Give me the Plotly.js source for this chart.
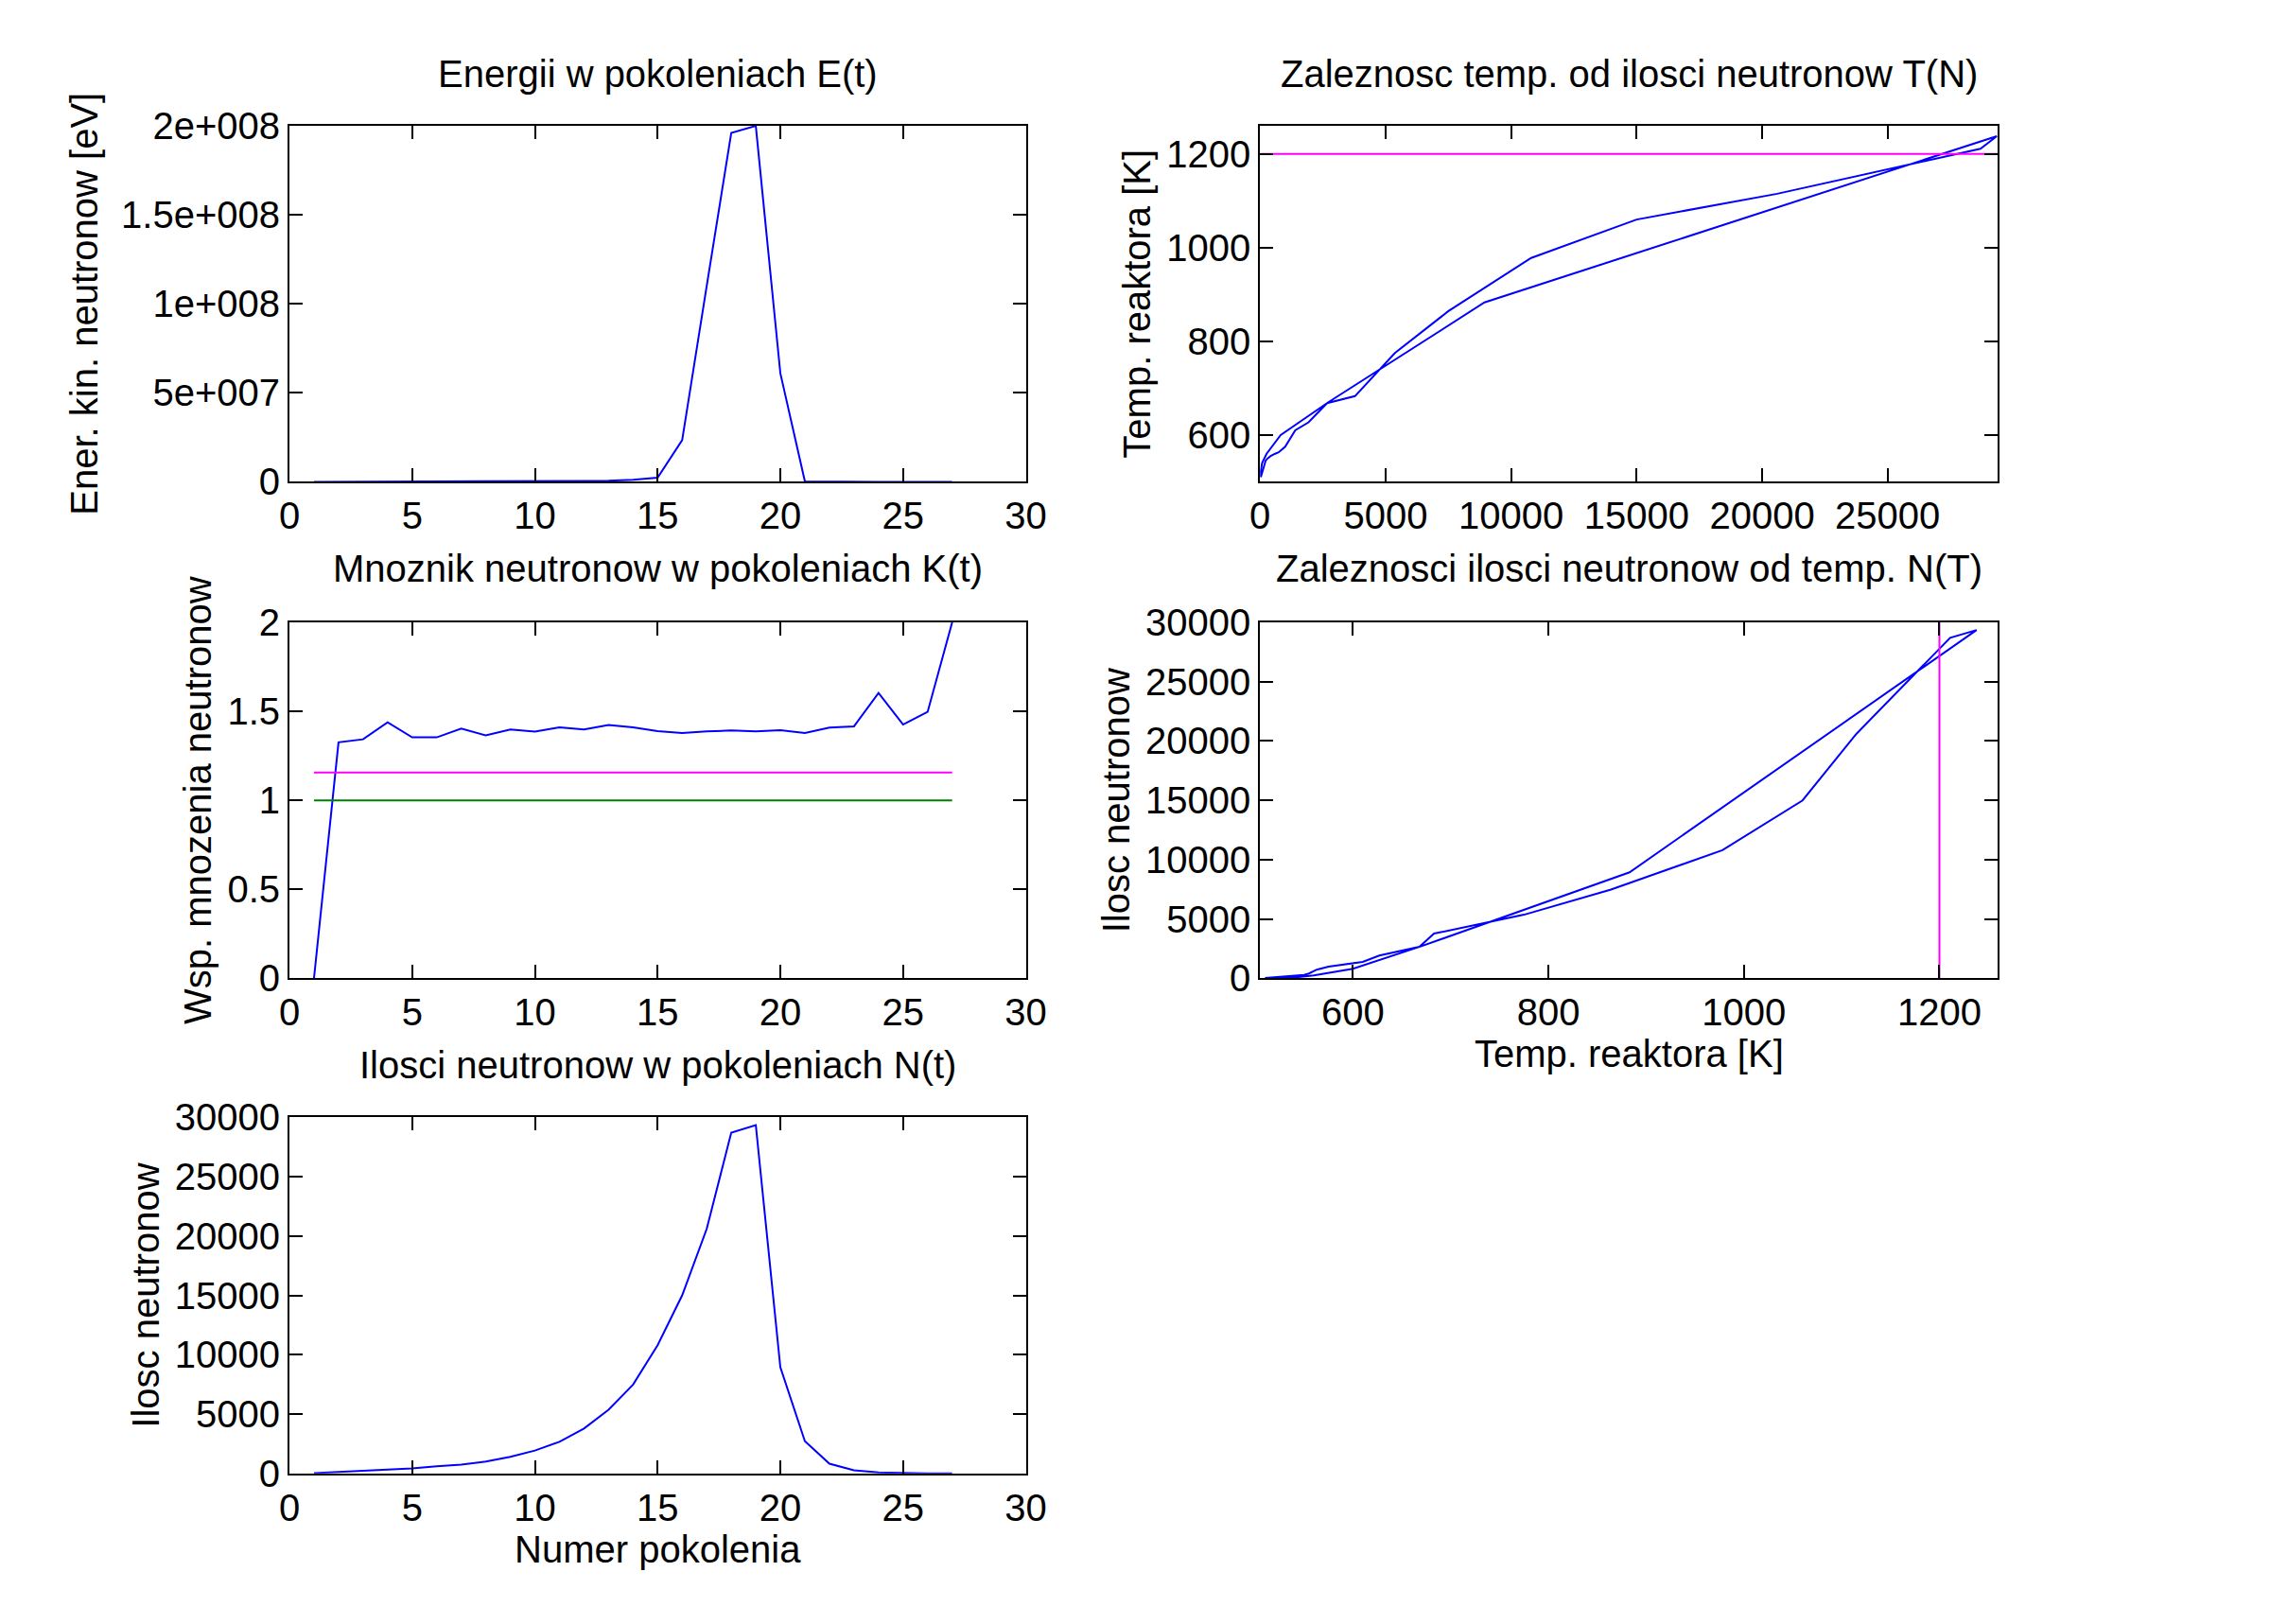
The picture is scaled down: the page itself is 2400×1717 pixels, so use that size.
<!DOCTYPE html>
<html>
<head>
<meta charset="utf-8">
<script src="https://cdn.plot.ly/plotly-3.0.1.min.js"></script>
<style>body{margin:0;background:#fff}#chart{width:2400px;height:1717px}</style>
</head>
<body>
<div id="chart"></div>
<script>
// generation numbers
const gen = [1,2,3,4,5,6,7,8,9,10,11,12,13,14,15,16,17,18,19,20,21,22,23,24,25,26,27];
// kinetic energy per generation [eV]
const energy = [0,1e4,2e4,4e4,6e4,9e4,1.2e5,1.6e5,2.2e5,3e5,4e5,5e5,6e5,1.2e6,2.3e6,2.34e7,1.1e8,1.96e8,2e8,6.1e7,2e5,5e4,1e4,3e3,1e3,0,0];
// multiplication factor K(t)
const kFactor = [0,1.326,1.343,1.439,1.354,1.354,1.403,1.365,1.398,1.386,1.410,1.398,1.423,1.410,1.389,1.379,1.387,1.393,1.387,1.394,1.379,1.409,1.416,1.603,1.426,1.497,2.0];
// neutron count N(t)
const neutrons = [30,140,220,300,420,600,740,1000,1400,1930,2670,3780,5370,7490,10800,15000,20600,28700,29350,8940,2720,820,260,80,20,5,2];
// reactor temperature T(t) [K]
const temps = [510,530,545,550,555,560,563,575,610,627,668,683,775,864,978,1060,1115,1211,1238,883,670,600,560,540,525,515,510];
const kCritical = 1.156;
const kUnit = 1.0;
const tLimit = 1200;

const font = {family: 'Liberation Sans, Arial, sans-serif', size: 40, color: '#000'};
const blue = {color: '#0000ff', width: 2};

function axis(domain, anchor, extra) {
    return Object.assign({
        domain: domain, anchor: anchor,
        showline: true, mirror: 'ticks', linecolor: '#000', linewidth: 2,
        ticks: 'inside', ticklen: 14, tickwidth: 2, tickcolor: '#000',
        showgrid: false, zeroline: false, tickfont: font, tickformat: 'd'
    }, extra);
}

const xL = [0.1275, 0.4519], xR = [0.5551, 0.8802];
const y1 = [0.7033, 0.9225], y2 = [0.3975, 0.6168], y3 = [0.0927, 0.3120];

const data = [
    {x: gen, y: energy, xaxis: 'x', yaxis: 'y', mode: 'lines', line: blue},
    {x: gen, y: kFactor, xaxis: 'x2', yaxis: 'y2', mode: 'lines', line: blue},
    {x: [gen[0], gen[gen.length - 1]], y: [kCritical, kCritical], xaxis: 'x2', yaxis: 'y2', mode: 'lines', line: {color: '#ff00ff', width: 2}},
    {x: [gen[0], gen[gen.length - 1]], y: [kUnit, kUnit], xaxis: 'x2', yaxis: 'y2', mode: 'lines', line: {color: '#008000', width: 2}},
    {x: gen, y: neutrons, xaxis: 'x3', yaxis: 'y3', mode: 'lines', line: blue},
    {x: neutrons, y: temps, xaxis: 'x4', yaxis: 'y4', mode: 'lines', line: blue},
    {x: [0, 29400], y: [tLimit, tLimit], xaxis: 'x4', yaxis: 'y4', mode: 'lines', line: {color: '#ff00ff', width: 2}},
    {x: temps, y: neutrons, xaxis: 'x5', yaxis: 'y5', mode: 'lines', line: blue},
    {x: [tLimit, tLimit], y: [0, 30000], xaxis: 'x5', yaxis: 'y5', mode: 'lines', line: {color: '#ff00ff', width: 2}}
];

const layout = {
    width: 2400, height: 1717, showlegend: false,
    paper_bgcolor: '#fff', plot_bgcolor: '#fff',
    margin: {l: 0, r: 0, t: 0, b: 0}, font: font,
    xaxis: axis(xL, 'y', {range: [0, 30], dtick: 5}),
    yaxis: axis(y1, 'x', {range: [0, 2e8], tickvals: [0, 5e7, 1e8, 1.5e8, 2e8], ticktext: ['0', '5e+007', '1e+008', '1.5e+008', '2e+008'],
        title: {text: 'Ener. kin. neutronow [eV]', font: font, standoff: 12}}),
    xaxis2: axis(xL, 'y2', {range: [0, 30], dtick: 5}),
    yaxis2: axis(y2, 'x2', {range: [0, 2], dtick: 0.5, tickformat: '', title: {text: 'Wsp. mnozenia neutronow', font: font, standoff: 4}}),
    xaxis3: axis(xL, 'y3', {range: [0, 30], dtick: 5, title: {text: 'Numer pokolenia', font: font, standoff: 6}}),
    yaxis3: axis(y3, 'x3', {range: [0, 30000], dtick: 5000, title: {text: 'Ilosc neutronow', font: font, standoff: 4}}),
    xaxis4: axis(xR, 'y4', {range: [0, 29400], tickvals: [0, 5000, 10000, 15000, 20000, 25000]}),
    yaxis4: axis(y1, 'x4', {range: [500, 1260], tickvals: [600, 800, 1000, 1200], title: {text: 'Temp. reaktora [K]', font: font, standoff: 4}}),
    xaxis5: axis(xR, 'y5', {range: [505, 1260], tickvals: [600, 800, 1000, 1200], title: {text: 'Temp. reaktora [K]', font: font, standoff: 6}}),
    yaxis5: axis(y2, 'x5', {range: [0, 30000], dtick: 5000, title: {text: 'Ilosc neutronow', font: font, standoff: 4}}),
    annotations: [
        {text: 'Energii w pokoleniach E(t)', x: 0.2897, y: 0.9546},
        {text: 'Mnoznik neutronow w pokoleniach K(t)', x: 0.2897, y: 0.6498},
        {text: 'Ilosci neutronow w pokoleniach N(t)', x: 0.2897, y: 0.3441},
        {text: 'Zaleznosc temp. od ilosci neutronow T(N)', x: 0.7176, y: 0.9546},
        {text: 'Zaleznosci ilosci neutronow od temp. N(T)', x: 0.7176, y: 0.6498}
    ].map(a => Object.assign(a, {xref: 'paper', yref: 'paper', showarrow: false, xanchor: 'center', yanchor: 'middle', font: font}))
};

Plotly.newPlot('chart', data, layout, {staticPlot: true});
</script>
</body>
</html>
